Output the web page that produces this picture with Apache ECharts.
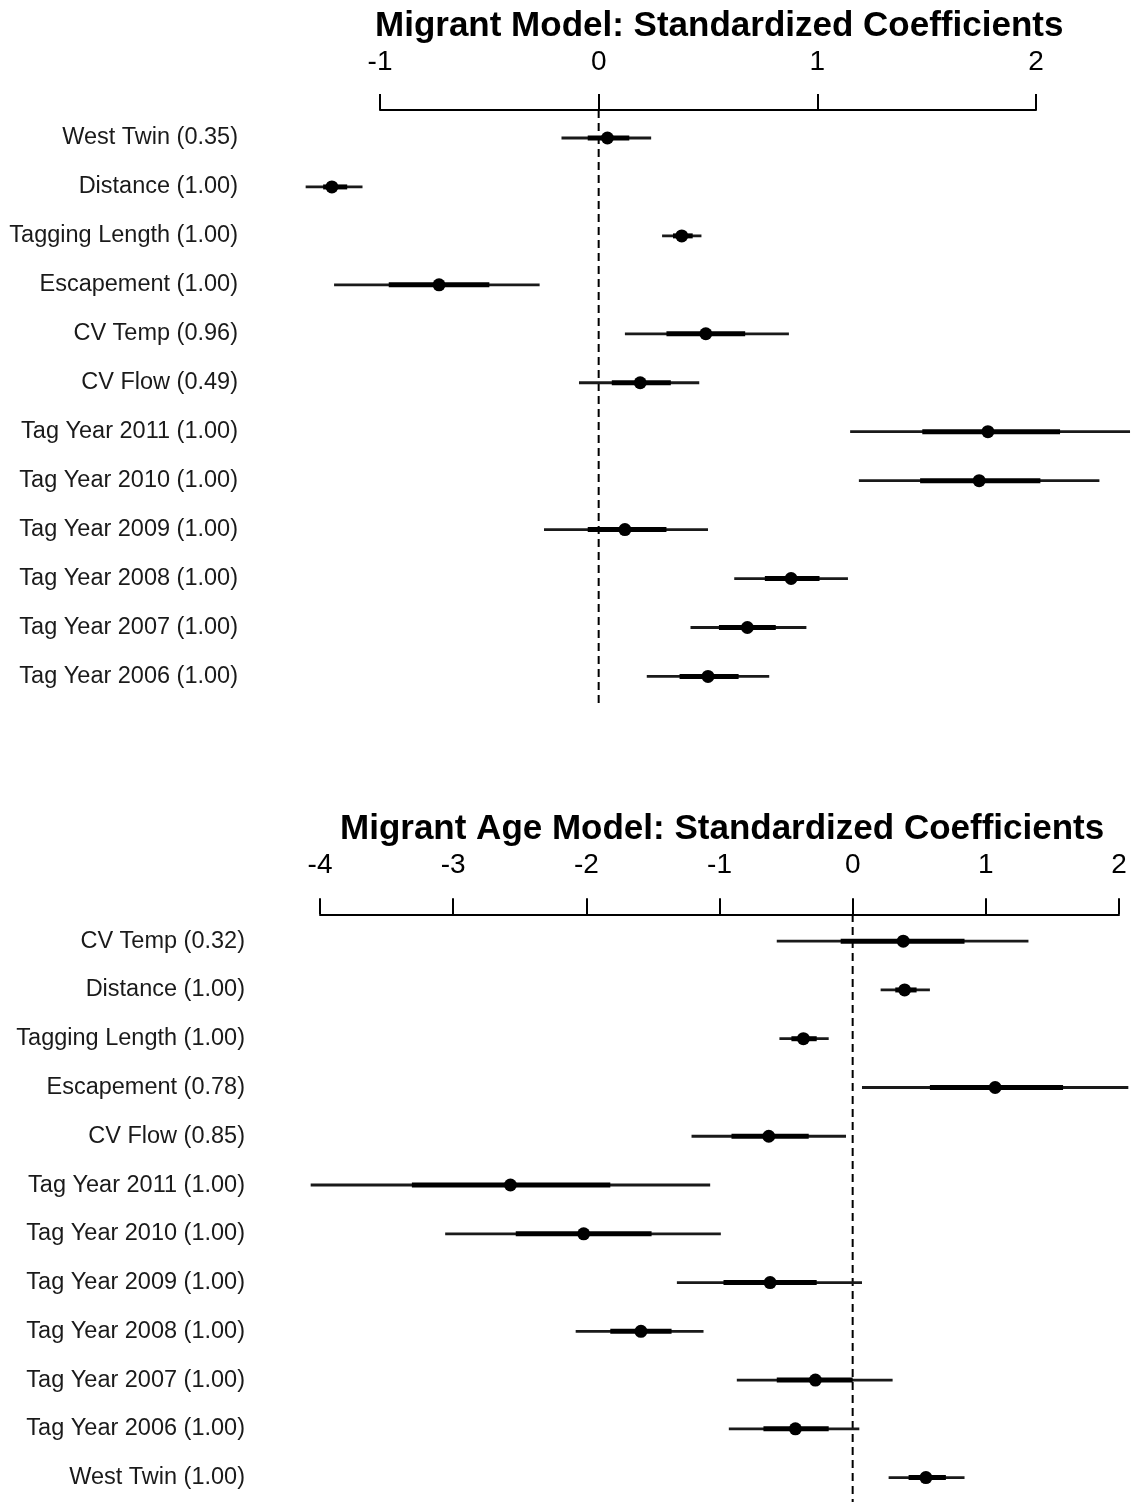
<!DOCTYPE html>
<html>
<head>
<meta charset="utf-8">
<script src="https://cdn.jsdelivr.net/npm/echarts@6/dist/echarts.min.js"></script>
<style>
  html, body { margin: 0; padding: 0; background: #fff; }
  #chart { width: 1132px; height: 1502px; }
</style>
</head>
<body>
<div id="chart"></div>
<script>
// ---- top panel: Migrant Model ----
var topLabels = ['West Twin (0.35)', 'Distance (1.00)', 'Tagging Length (1.00)', 'Escapement (1.00)',
  'CV Temp (0.96)', 'CV Flow (0.49)', 'Tag Year 2011 (1.00)', 'Tag Year 2010 (1.00)',
  'Tag Year 2009 (1.00)', 'Tag Year 2008 (1.00)', 'Tag Year 2007 (1.00)', 'Tag Year 2006 (1.00)'];
var topEst  = [0.04, -1.22, 0.38, -0.73, 0.49, 0.19, 1.78, 1.74, 0.12, 0.88, 0.68, 0.50];
var topLo95 = [-0.17, -1.34, 0.29, -1.21, 0.12, -0.09, 1.15, 1.19, -0.25, 0.62, 0.42, 0.22];
var topHi95 = [0.24, -1.08, 0.47, -0.27, 0.87, 0.46, 2.43, 2.29, 0.50, 1.14, 0.95, 0.78];
var topLo50 = [-0.05, -1.26, 0.34, -0.96, 0.31, 0.06, 1.48, 1.47, -0.05, 0.76, 0.55, 0.37];
var topHi50 = [0.14, -1.15, 0.43, -0.50, 0.67, 0.33, 2.11, 2.02, 0.31, 1.01, 0.81, 0.64];
var topTicks = [-1, 0, 1, 2];

// ---- bottom panel: Migrant Age Model ----
var botLabels = ['CV Temp (0.32)', 'Distance (1.00)', 'Tagging Length (1.00)', 'Escapement (0.78)',
  'CV Flow (0.85)', 'Tag Year 2011 (1.00)', 'Tag Year 2010 (1.00)', 'Tag Year 2009 (1.00)',
  'Tag Year 2008 (1.00)', 'Tag Year 2007 (1.00)', 'Tag Year 2006 (1.00)', 'West Twin (1.00)'];
var botEst  = [0.38, 0.39, -0.37, 1.07, -0.63, -2.57, -2.02, -0.62, -1.59, -0.28, -0.43, 0.55];
var botLo95 = [-0.57, 0.21, -0.55, 0.07, -1.21, -4.07, -3.06, -1.32, -2.08, -0.87, -0.93, 0.27];
var botHi95 = [1.32, 0.58, -0.18, 2.07, -0.05, -1.07, -0.99, 0.07, -1.12, 0.30, 0.05, 0.84];
var botLo50 = [-0.09, 0.32, -0.46, 0.58, -0.91, -3.31, -2.53, -0.97, -1.82, -0.57, -0.67, 0.42];
var botHi50 = [0.84, 0.48, -0.27, 1.58, -0.33, -1.82, -1.51, -0.27, -1.36, 0.00, -0.18, 0.70];
var botTicks = [-4, -3, -2, -1, 0, 1, 2];

var FONT = 'Liberation Sans, Arial, sans-serif';

function buildData(est, lo95, hi95, lo50, hi50) {
  var out = [];
  for (var i = 0; i < est.length; i++) {
    out.push([i, est[i], lo95[i], hi95[i], lo50[i], hi50[i]]);
  }
  return out;
}

// one row: thin 95% line, thick 50% line, dot; the dashed zero line is drawn once
function makeRender(lineTop, lineBottom) {
  return function (params, api) {
    var row = api.value(0);
    var p = api.coord([api.value(1), row]);
    var a = api.coord([api.value(2), row]);
    var b = api.coord([api.value(3), row]);
    var c = api.coord([api.value(4), row]);
    var d = api.coord([api.value(5), row]);
    var kids = [];
    if (params.dataIndex === 0) {
      var z = api.coord([0, row]);
      kids.push({
        type: 'line',
        shape: { x1: z[0], y1: lineTop, x2: z[0], y2: lineBottom },
        style: { stroke: '#000', lineWidth: 2, lineDash: [8, 5] }
      });
    }
    kids.push({
      type: 'line',
      shape: { x1: a[0], y1: a[1], x2: b[0], y2: b[1] },
      style: { stroke: '#1a1a1a', lineWidth: 2.8 }
    });
    kids.push({
      type: 'line',
      shape: { x1: c[0], y1: c[1], x2: d[0], y2: d[1] },
      style: { stroke: '#000', lineWidth: 5 }
    });
    kids.push({
      type: 'circle',
      shape: { cx: p[0], cy: p[1], r: 6.5 },
      style: { fill: '#000' }
    });
    return { type: 'group', children: kids };
  };
}

function xAxisCfg(gridIndex, ticks, margin, offset) {
  return {
    type: 'value',
    gridIndex: gridIndex,
    position: 'top',
    offset: offset,
    min: ticks[0],
    max: ticks[ticks.length - 1],
    interval: 1,
    axisLine: { show: true, lineStyle: { color: '#000', width: 2 } },
    axisTick: { show: true, length: 16, lineStyle: { color: '#000', width: 2 } },
    axisLabel: { fontSize: 28, color: '#000', fontFamily: FONT, margin: margin },
    splitLine: { show: false }
  };
}

function yAxisCfg(gridIndex, labels, margin) {
  return {
    type: 'category',
    gridIndex: gridIndex,
    data: labels,
    inverse: true,
    axisLine: { show: false },
    axisTick: { show: false },
    axisLabel: {
      fontSize: 23.5, color: '#1a1a1a', fontFamily: FONT, margin: margin, interval: 0,
      padding: [6, 0, 0, 0]
    },
    splitLine: { show: false }
  };
}

var chart = echarts.init(document.getElementById('chart'));
chart.setOption({
  backgroundColor: '#fff',
  animation: false,
  title: [
    { text: 'Migrant Model: Standardized Coefficients', left: 370, top: 4,
      textStyle: { fontSize: 35, fontWeight: 'bold', color: '#000', fontFamily: FONT } },
    { text: 'Migrant Age Model: Standardized Coefficients', left: 335, top: 807,
      textStyle: { fontSize: 35, fontWeight: 'bold', color: '#000', fontFamily: FONT } }
  ],
  grid: [
    { left: 380, width: 656, top: 113.5, height: 587.4 },
    { left: 320, width: 799, top: 916.8, height: 587.5 }
  ],
  xAxis: [
    xAxisCfg(0, topTicks, 34, 3.5),
    xAxisCfg(1, botTicks, 35, 2.5)
  ],
  yAxis: [
    yAxisCfg(0, topLabels, 142),
    yAxisCfg(1, botLabels, 75)
  ],
  series: [
    {
      type: 'custom',
      xAxisIndex: 0, yAxisIndex: 0,
      clip: false,
      encode: { x: 1, y: 0 },
      renderItem: makeRender(110, 703),
      data: buildData(topEst, topLo95, topHi95, topLo50, topHi50)
    },
    {
      type: 'custom',
      xAxisIndex: 1, yAxisIndex: 1,
      clip: false,
      encode: { x: 1, y: 0 },
      renderItem: makeRender(914, 1502),
      data: buildData(botEst, botLo95, botHi95, botLo50, botHi50)
    }
  ]
});
</script>
</body>
</html>
